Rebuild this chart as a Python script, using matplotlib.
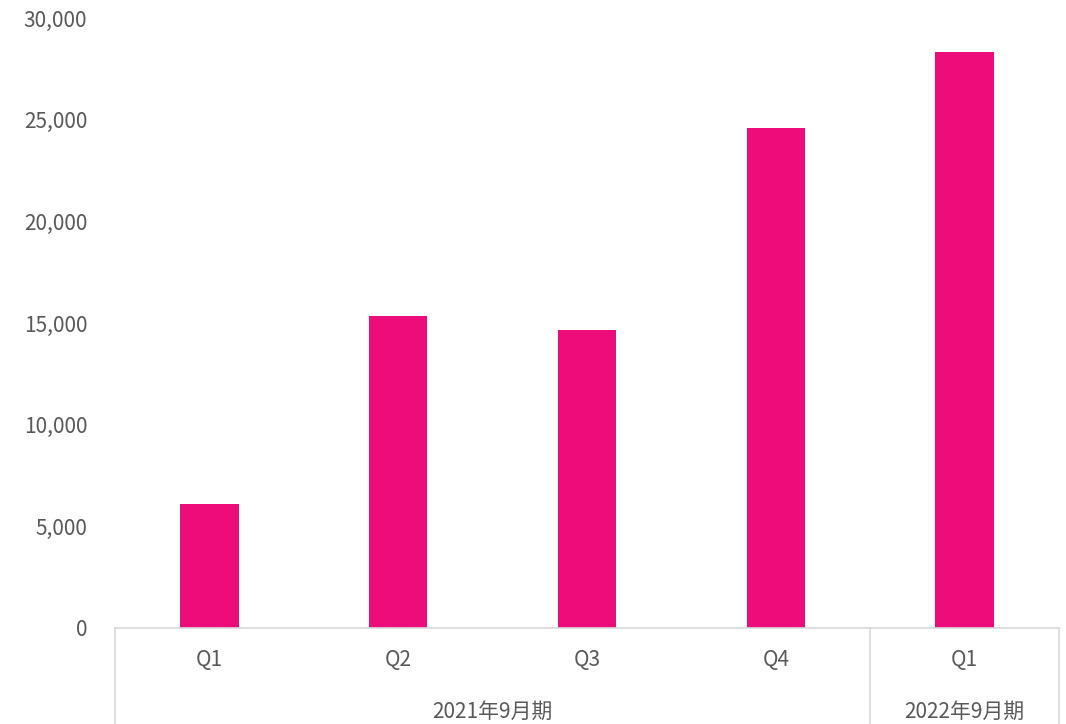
import matplotlib.pyplot as plt
import matplotlib.transforms as mtransforms

plt.rcParams['font.family'] = ['Noto Sans CJK JP', 'DejaVu Sans']

quarters = ['Q1', 'Q2', 'Q3', 'Q4', 'Q1']
values = [6100, 15350, 14650, 24600, 28350]
groups = ['2021年9月期', '2022年9月期']
group_sizes = [4, 1]

bar_color = '#EC0C7A'
text_color = '#595959'
line_color = '#D9D9D9'
fsize = 15

fig = plt.figure(figsize=(10.66, 7.24), dpi=100)
ax = fig.add_axes([115 / 1066, 96 / 724, 944 / 1066, 610 / 724])

x = list(range(len(values)))
ax.bar(x, values, width=0.31, color=bar_color)

ax.set_xlim(-0.5, len(values) - 0.5)
ax.set_ylim(0, 30000)
ax.set_yticks(range(0, 30001, 5000))
ax.set_yticklabels([f'{v:,}' for v in range(0, 30001, 5000)])
ax.tick_params(axis='y', length=0, pad=20, labelsize=fsize, labelcolor=text_color)
ax.set_xticks([])

for s in ['top', 'right', 'left']:
    ax.spines[s].set_visible(False)
ax.spines['bottom'].set_color(line_color)
ax.spines['bottom'].set_linewidth(1.2)

trans = mtransforms.blended_transform_factory(ax.transData, ax.transAxes)
ax_h = 610.0

# category labels
for i, q in enumerate(quarters):
    ax.text(i, -32 / ax_h, q, transform=trans, ha='center', va='center',
            fontsize=fsize, color=text_color)

# group labels and separators
start = -0.5
bounds = [start]
for g, n in zip(groups, group_sizes):
    end = start + n
    ax.text((start + end) / 2, -84 / ax_h, g, transform=trans, ha='center',
            va='center', fontsize=fsize, color=text_color)
    bounds.append(end)
    start = end
for b in bounds:
    ax.plot([b, b], [0, -100 / ax_h], transform=trans, color=line_color,
            linewidth=1.2, clip_on=False)

fig.savefig('out.png', dpi=100)
